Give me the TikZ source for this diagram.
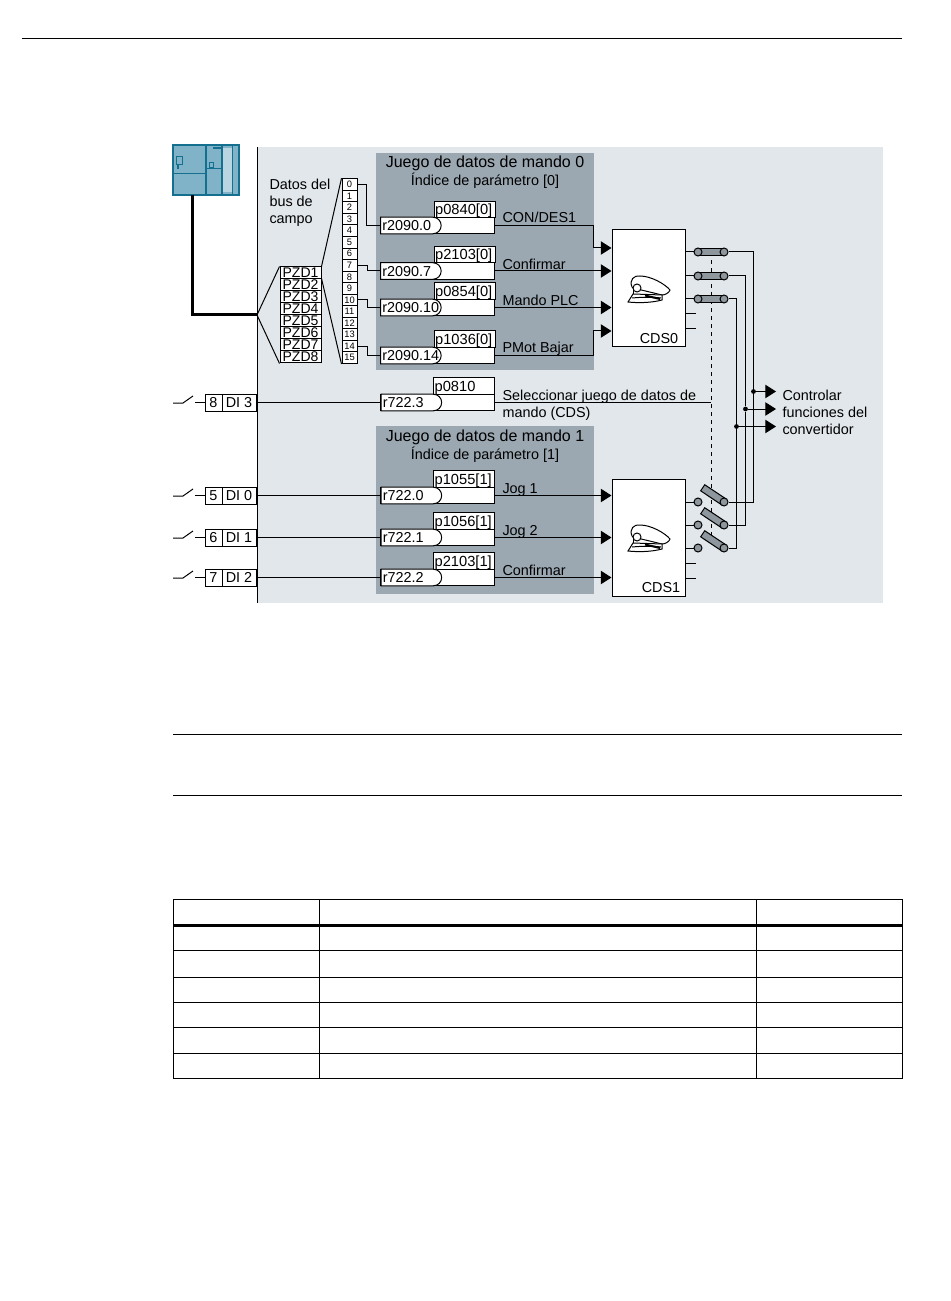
\documentclass[tikz,border=0pt]{standalone}
\usepackage{fontspec}
\setmainfont{Liberation Sans}
\usepackage{tikz}
\usetikzlibrary{shapes.misc, arrows.meta}
\definecolor{panel}{HTML}{E2E7EB}
\definecolor{setgray}{HTML}{9BA8B1}
\definecolor{swgray}{HTML}{8E979E}
\definecolor{plcblue}{HTML}{80B2C8}
\definecolor{plcedge}{HTML}{14708E}
\tikzstyle{lab} = [inner sep=0pt, anchor=west, align=left, text height=7.8pt, text depth=0pt, font=\fontsize{10.8}{12.8}\selectfont]
\tikzstyle{head} = [inner sep=0pt, text height=8.6pt, text depth=0pt, font=\fontsize{12}{14}\selectfont]
\tikzstyle{subhead} = [inner sep=0pt, text height=7.8pt, text depth=0pt, font=\fontsize{10.8}{13}\selectfont]
\tikzstyle{parbox} = [draw, fill=white, inner sep=0pt, minimum width=45.75pt, minimum height=12.4pt, text width=44pt, align=left, text height=7.8pt, text depth=0pt, font=\fontsize{11}{12}\selectfont]
\tikzstyle{sinkbox} = [draw, fill=white, inner sep=0pt, minimum width=85.5pt, minimum height=12.4pt]
\tikzstyle{tag} = [draw, fill=white, rounded rectangle, rounded rectangle west arc=none, anchor=west, inner sep=0pt, inner xsep=0.5pt, minimum width=46.5pt, minimum height=12.4pt, text width=38.5pt, align=left, text height=7.8pt, text depth=0pt, font=\fontsize{10.8}{12}\selectfont, execute at begin node=\hspace*{-1.5pt}]
\tikzstyle{pzd} = [draw, fill=white, inner sep=0pt, minimum width=30.75pt, minimum height=9pt, node distance=9pt, font=\fontsize{10.5}{10}\selectfont]
\tikzstyle{idx} = [draw, fill=white, inner sep=0pt, minimum width=11.25pt, minimum height=8.66pt, node distance=8.66pt, font=\fontsize{7}{8}\selectfont]
\tikzstyle{dinum} = [draw, fill=white, inner sep=0pt, minimum width=12.75pt, minimum height=12.75pt, font=\fontsize{10.8}{12}\selectfont]
\tikzstyle{diname} = [draw, fill=white, inner sep=0pt, minimum width=25.5pt, minimum height=12.75pt, font=\fontsize{10.8}{12}\selectfont]
\tikzstyle{cds} = [draw, fill=white, inner sep=0pt, minimum width=54.75pt, minimum height=87.75pt]
\tikzstyle{contact} = [draw, fill=swgray, circle, inner sep=0pt, minimum size=6pt]
\tikzstyle{bar} = [draw, fill=swgray, inner sep=0pt, minimum width=19.5pt, minimum height=5.5pt]
\tikzstyle{dot} = [fill, circle, inner sep=0pt, minimum size=3.6pt]
\tikzstyle{arrow} = [-{Triangle[length=8pt,width=10pt]}]
\tikzset{pics/hat/.style={code={
    \draw [fill=white] (-17,-2) .. controls (-20,-9) and (-15,-14) .. (-9,-13) .. controls (2,-13) and (16,-5) .. (21,1) .. controls (20,4) and (16,6) .. (13,6) -- (-16,-1) -- cycle;
    \draw [fill=white] (-16,5) -- (13,6) -- (13,11) .. controls (2,14) and (-12,14) .. (-21,13) -- cycle;
    \draw (-16,5) -- (-16,-1);
    \draw (-17,9) .. controls (-6,8) and (4,8) .. (12,9);
    \draw [line width=1.5pt] (-4,6.5) -- (11,10);
    \draw [fill=white] (-12,-1) circle (4);
}}}

\begin{document}
\begin{tikzpicture}[x=0.75pt, y=-0.75pt, line width=0.75pt]
    \useasboundingbox (0,0) rectangle (950,1301);

    % Page rules and table
    \draw (22,39) -- (902,39);
    \draw (173,734) -- (902,734);
    \draw (173,795) -- (902,795);
    \draw (173,899) rectangle (902,1078);
    \draw (319,899) -- (319,1078);
    \draw (756,899) -- (756,1078);
    \draw [line width=2.25pt] (173,925) -- (902,925);
    \draw (173,950) -- (902,950);
    \draw (173,977) -- (902,977);
    \draw (173,1002) -- (902,1002);
    \draw (173,1027) -- (902,1027);
    \draw (173,1053) -- (902,1053);

    % Backgrounds
    \fill [panel] (257,147) rectangle (883,603);
    \draw (257,147) -- (257,603);
    \fill [setgray] (376,153) rectangle (594,370);
    \fill [setgray] (376,426) rectangle (594,594);

    % Controller
    \node (plc) [fill=plcblue, inner sep=0pt, minimum width=48.5pt, minimum height=36.5pt] at (206,170) {};
    \fill [white!45!plcblue] (223,148) rectangle (232,192);
    \draw [plcedge, line width=1.5pt] (plc.north west) rectangle (plc.south east);
    \draw [plcedge, line width=1.5pt] (206,145) -- (206,195);
    \draw [plcedge, line width=1.5pt] (222,145) -- (222,195);
    \draw [plcedge] (232,145) -- (232,195);
    \draw [plcedge] (173,174) -- (206,174);
    \draw [plcedge] (206,169) -- (222,169);
    \draw [plcedge, line width=0.6pt] (176,156) rectangle (182,164);
    \fill [plcedge] (177,165) rectangle (179,169);
    \fill [plcedge] (213,147) rectangle (222,149);
    \draw [plcedge, line width=0.5pt] (209,162) rectangle (213,167);

    % Fieldbus
    \node [lab] at (269,184) {Datos del};
    \node [lab] at (269,201) {bus de};
    \node [lab] at (269,218) {campo};
    \node (pzd1) [pzd] at (300.5,273) {PZD1};
    \node (pzd2) [pzd, below of=pzd1] {PZD2};
    \node (pzd3) [pzd, below of=pzd2] {PZD3};
    \node (pzd4) [pzd, below of=pzd3] {PZD4};
    \node (pzd5) [pzd, below of=pzd4] {PZD5};
    \node (pzd6) [pzd, below of=pzd5] {PZD6};
    \node (pzd7) [pzd, below of=pzd6] {PZD7};
    \node (pzd8) [pzd, below of=pzd7] {PZD8};
    \node (idx0) [idx] at (349.5,184.5) {0};
    \node (idx1) [idx, below of=idx0] {1};
    \node (idx2) [idx, below of=idx1] {2};
    \node (idx3) [idx, below of=idx2] {3};
    \node (idx4) [idx, below of=idx3] {4};
    \node (idx5) [idx, below of=idx4] {5};
    \node (idx6) [idx, below of=idx5] {6};
    \node (idx7) [idx, below of=idx6] {7};
    \node (idx8) [idx, below of=idx7] {8};
    \node (idx9) [idx, below of=idx8] {9};
    \node (idx10) [idx, below of=idx9] {10};
    \node (idx11) [idx, below of=idx10] {11};
    \node (idx12) [idx, below of=idx11] {12};
    \node (idx13) [idx, below of=idx12] {13};
    \node (idx14) [idx, below of=idx13] {14};
    \node (idx15) [idx, below of=idx14] {15};
    \coordinate (bus) at (257,315);

    % Command data set 0
    \node [head] at (485,162) {Juego de datos de mando 0};
    \node [subhead] at (485,180) {Índice de parámetro [0]};
    \node (p0840) [parbox] at (464.5,209.5) {p0840[0]};
    \node (s0840) [sinkbox] at (437,225.5) {};
    \node (r0) [tag] at (380,225.5) {r2090.0};
    \node (p2103a) [parbox] at (464.5,254.5) {p2103[0]};
    \node (s2103a) [sinkbox] at (437,271) {};
    \node (r7) [tag] at (380,271) {r2090.7};
    \node (p0854) [parbox] at (464.5,291) {p0854[0]};
    \node (s0854) [sinkbox] at (437,307.5) {};
    \node (r10) [tag] at (380,307.5) {r2090.10};
    \node (p1036) [parbox] at (464.5,339) {p1036[0]};
    \node (s1036) [sinkbox] at (437,355.5) {};
    \node (r14) [tag] at (380,355.5) {r2090.14};
    \node [lab] at (502,217) {CON/DES1};
    \node [lab] at (502,264) {Confirmar};
    \node [lab] at (502,300) {Mando PLC};
    \node [lab] at (502,347) {PMot Bajar};

    % Data set selection
    \node (p0810) [parbox] at (464,386) {p0810};
    \node (s0810) [sinkbox] at (437,402.5) {};
    \node (r3) [tag] at (380.5,402.5) {r722.3};
    \node [lab] at (502,395) {Seleccionar juego de datos de};
    \node [lab] at (502,412) {mando (CDS)};

    % Command data set 1
    \node [head] at (485,436) {Juego de datos de mando 1};
    \node [subhead] at (485,454) {Índice de parámetro [1]};
    \node (p1055) [parbox] at (464,479) {p1055[1]};
    \node (s1055) [sinkbox] at (437,495.5) {};
    \node (ra) [tag] at (380.5,495.5) {r722.0};
    \node (p1056) [parbox] at (464,521) {p1056[1]};
    \node (s1056) [sinkbox] at (437,537.5) {};
    \node (rb) [tag] at (380.5,537.5) {r722.1};
    \node (p2103b) [parbox] at (464,561) {p2103[1]};
    \node (s2103b) [sinkbox] at (437,577.5) {};
    \node (rc) [tag] at (380.5,577.5) {r722.2};
    \node [lab] at (502,488) {Jog 1};
    \node [lab] at (502,530) {Jog 2};
    \node [lab] at (502,570) {Confirmar};

    % Digital inputs
    \node (num8) [dinum] at (213.5,402.5) {8};
    \node (di3) [diname] at (239,402.5) {DI 3};
    \node (num5) [dinum] at (213.5,495.5) {5};
    \node (di0) [diname] at (239,495.5) {DI 0};
    \node (num6) [dinum] at (213.5,537.5) {6};
    \node (di1) [diname] at (239,537.5) {DI 1};
    \node (num7) [dinum] at (213.5,577.5) {7};
    \node (di2) [diname] at (239,577.5) {DI 2};

    % Selector
    \node (cds0) [cds] at (648.5,288.5) {};
    \node (cds1) [cds] at (648.5,537.5) {};
    \node [lab, anchor=center] at (659,338) {CDS0};
    \node [lab, anchor=center] at (661,587) {CDS1};
    \pic at (649,289) {hat};
    \pic at (649,538) {hat};
    \coordinate (dasha) at (711,252);
    \coordinate (dashb) at (711,537);
    \draw [dashed] (dasha) -- (dashb);
    \node (bara) [bar] at (711,252) {};
    \node (barb) [bar] at (711,276) {};
    \node (barc) [bar] at (711,299) {};
    \node (ca) [contact] at (698,252) {};
    \node (cb) [contact] at (698,276) {};
    \node (cc) [contact] at (698,299) {};
    \node (da) [contact] at (724,252) {};
    \node (db) [contact] at (724,276) {};
    \node (dc) [contact] at (724,299) {};
    \node (bard) [bar, rotate=-33.7] at (713.5,495) {};
    \node (bare) [bar, rotate=-33.7] at (713.5,518) {};
    \node (barf) [bar, rotate=-33.7] at (713.5,541) {};
    \node (cd) [contact] at (698,502) {};
    \node (ce) [contact] at (698,525) {};
    \node (cf) [contact] at (698,548) {};
    \node (dd) [contact] at (724,502) {};
    \node (de) [contact] at (724,525) {};
    \node (df) [contact] at (724,548) {};
    \node (dota) [dot] at (753.5,391.5) {};
    \node (dotb) [dot] at (745.5,409) {};
    \node (dotc) [dot] at (736.5,426.5) {};
    \coordinate (tipa) at (776,391.5);
    \coordinate (tipb) at (776,409);
    \coordinate (tipc) at (776,426.5);
    \coordinate (stuba) at (696,314);
    \coordinate (stubb) at (696,329);
    \coordinate (stubc) at (696,563);
    \coordinate (stubd) at (696,578);
    \node [lab] at (782,395) {Controlar};
    \node [lab] at (782,412) {funciones del};
    \node [lab] at (782,429) {convertidor};

    % Fieldbus wiring
    \draw [line width=2.25pt] (plc.south -| 192,0) |- (bus);
    \draw (bus) -- (pzd1.north west);
    \draw (bus) -- (pzd8.south west);
    \draw (pzd1.north east) -- (idx0.north west);
    \draw (pzd2.north east) -- (idx15.south west);
    \draw (idx0.east) -- ++(9,0) |- (r0.west);
    \draw (idx7.east) -- ++(10,0) |- (r7.west);
    \draw (idx10.east) -- ++(10,0) |- (r10.west);
    \draw (idx14.east) -- ++(10,0) |- (r14.west);

    % Switch symbols and inputs
    \draw (173,403) -- (183,403) -- (193,396);
    \draw (num8.west) -- ++(-10,0);
    \draw (173,496) -- (183,496) -- (193,489);
    \draw (num5.west) -- ++(-10,0);
    \draw (173,538) -- (183,538) -- (193,531);
    \draw (num6.west) -- ++(-10,0);
    \draw (173,578) -- (183,578) -- (193,571);
    \draw (num7.west) -- ++(-10,0);
    \draw (di3.east) -- (r3.west);
    \draw (di0.east) -- (ra.west);
    \draw (di1.east) -- (rb.west);
    \draw (di2.east) -- (rc.west);

    % Signals into the selector
    \draw [arrow] (s0840.east) -- ++(99,0) |- (cds0.west |- 0,248);
    \draw [arrow] (s2103a.east) -- (cds0.west |- s2103a.east);
    \draw [arrow] (s0854.east) -- (cds0.west |- s0854.east);
    \draw [arrow] (s1036.east) -- ++(99,0) |- (cds0.west |- 0,331);
    \draw [arrow] (s1055.east) -- (cds1.west |- s1055.east);
    \draw [arrow] (s1056.east) -- (cds1.west |- s1056.east);
    \draw [arrow] (s2103b.east) -- (cds1.west |- s2103b.east);
    \draw (s0810.east) -- (dasha |- s0810.east);

    % Selector outputs
    \draw (cds0.east |- ca) -- (ca);
    \draw (cds0.east |- cb) -- (cb);
    \draw (cds0.east |- cc) -- (cc);
    \draw (cds0.east |- stuba) -- (stuba);
    \draw (cds0.east |- stubb) -- (stubb);
    \draw (cds1.east |- cd) -- (cd);
    \draw (cds1.east |- ce) -- (ce);
    \draw (cds1.east |- cf) -- (cf);
    \draw (cds1.east |- stubc) -- (stubc);
    \draw (cds1.east |- stubd) -- (stubd);
    \draw (da) -| (dota) |- (dd);
    \draw (db) -| (dotb) |- (de);
    \draw (dc) -| (dotc) |- (df);
    \draw [arrow] (dota) -- (tipa);
    \draw [arrow] (dotb) -- (tipb);
    \draw [arrow] (dotc) -- (tipc);
\end{tikzpicture}
\end{document}
